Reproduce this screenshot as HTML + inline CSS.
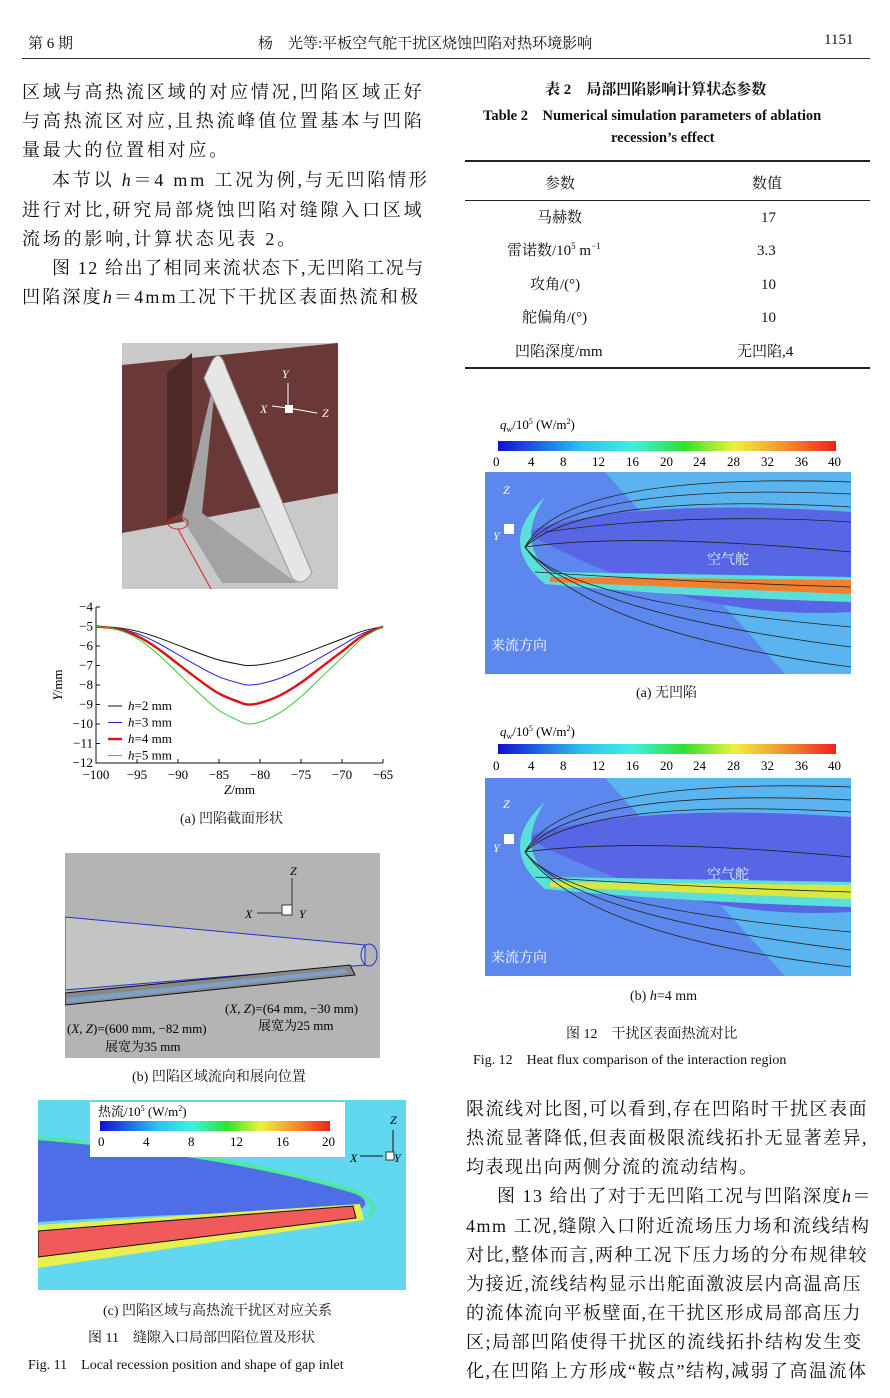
<!DOCTYPE html>
<html><head><meta charset="utf-8"><style>
body{margin:0;width:890px;height:1398px;background:#fff;position:relative;overflow:hidden;font-family:"Liberation Serif","Noto Serif CJK SC","Noto Sans CJK SC",serif;color:#111}
.a{position:absolute;white-space:nowrap}
.t{font-size:18px;letter-spacing:2.8px}
.r{font-size:18px;letter-spacing:1.5px}
.c{font-size:14px}
.v{font-size:15px}
</style></head><body>
<div class="a" style="left:28px;top:32px;font-size:15px">第 6 期</div>
<div class="a" style="left:258px;top:32px;font-size:15px">杨　光等:平板空气舵干扰区烧蚀凹陷对热环境影响</div>
<div class="a" style="left:824px;top:32px;font-size:15px">1151</div>
<div class="a" style="left:22px;top:58px;width:848px;height:1px;background:#333"></div>

<div>
<div class="a t" style="left:22px;top:78px">区域与高热流区域的对应情况,凹陷区域正好</div>
<div class="a t" style="left:22px;top:107px">与高热流区对应,且热流峰值位置基本与凹陷</div>
<div class="a t" style="left:22px;top:136px">量最大的位置相对应。</div>
<div class="a t" style="left:52px;top:166px">本节以 <i>h</i>＝4 mm 工况为例,与无凹陷情形</div>
<div class="a t" style="left:22px;top:196px">进行对比,研究局部烧蚀凹陷对缝隙入口区域</div>
<div class="a t" style="left:22px;top:225px">流场的影响,计算状态见表 2。</div>
<div class="a t" style="left:52px;top:254px;letter-spacing:1.6px">图 12 给出了相同来流状态下,无凹陷工况与</div>
<div class="a t" style="left:22px;top:283px;letter-spacing:2.2px">凹陷深度<i>h</i>＝4mm工况下干扰区表面热流和极</div>
</div>

<div class="a" style="left:545px;top:78px;font-size:15px;font-weight:bold">表 2　局部凹陷影响计算状态参数</div>
<div class="a" style="left:483px;top:104px;font-size:14.5px;font-weight:bold">Table 2　Numerical simulation parameters of ablation</div>
<div class="a" style="left:611px;top:130px;font-size:14.5px;font-weight:bold">recession’s effect</div>
<div>
<div class="a" style="left:465px;top:160px;width:405px;height:1.5px;background:#222"></div>
<div class="a" style="left:465px;top:200px;width:405px;height:1px;background:#222"></div>
<div class="a" style="left:465px;top:367px;width:405px;height:1.5px;background:#222"></div>
<div class="a v" style="left:545px;top:172px">参数</div><div class="a v" style="left:752px;top:172px">数值</div>
<div class="a v" style="left:537px;top:206px">马赫数</div><div class="a v" style="left:761px;top:210px">17</div>
<div class="a v" style="left:507px;top:239px">雷诺数/10<sup style="font-size:9px">5</sup> m<sup style="font-size:9px">−1</sup></div><div class="a v" style="left:757px;top:243px">3.3</div>
<div class="a v" style="left:530px;top:273px">攻角/(°)</div><div class="a v" style="left:761px;top:277px">10</div>
<div class="a v" style="left:522px;top:306px">舵偏角/(°)</div><div class="a v" style="left:761px;top:310px">10</div>
<div class="a v" style="left:515px;top:340px">凹陷深度/mm</div><div class="a v" style="left:737px;top:340px">无凹陷,4</div>
</div>

<svg class="a" style="left:122px;top:343px" width="216" height="246">
<rect width="216" height="246" fill="#c9c9c9"/>
<polygon points="0,22 216,0 216,150 0,190" fill="#6b3838"/>
<polygon points="45,30 70,10 70,160 45,180" fill="#4f2828"/>
<polygon points="95,25 80,170 175,240 100,240 60,175" fill="#a3a3a3"/>
<path d="M82,35 L90,18 Q98,5 104,25 L190,230 Q180,245 170,235 Z" fill="#e6e6e6" stroke="#999"/>
<ellipse cx="56" cy="180" rx="10" ry="6" fill="none" stroke="#d22"/>
<line x1="56" y1="186" x2="122" y2="306" stroke="#d22"/>
<text x="160" y="35" font-size="12" font-style="italic" fill="#fff">Y</text>
<text x="138" y="70" font-size="12" font-style="italic" fill="#fff">X</text>
<text x="200" y="74" font-size="12" font-style="italic" fill="#fff">Z</text>
<line x1="166" y1="40" x2="166" y2="65" stroke="#fff"/><line x1="166" y1="65" x2="195" y2="70" stroke="#fff"/><line x1="166" y1="65" x2="150" y2="63" stroke="#fff"/>
<rect x="163" y="62" width="8" height="8" fill="#fff"/>
</svg>

<svg class="a" id="chart" style="left:0;top:590px" width="440" height="230"></svg>
<div class="a c" style="left:180px;top:808px">(a) 凹陷截面形状</div>

<svg class="a" style="left:65px;top:853px" width="315" height="205">
<rect width="315" height="205" fill="#b4b4b4"/>
<polygon points="0,64 300,92 300,112 0,137" fill="#c4c4c4" stroke="#2233cc"/>
<ellipse cx="304" cy="102" rx="8" ry="11" fill="none" stroke="#2233cc"/>
<polygon points="0,140 285,112 290,122 0,152" fill="#888" stroke="#111"/>
<polygon points="2,145 280,116 283,120 2,150" fill="#7f9fc9"/>
<text x="225" y="22" font-size="12" font-style="italic">Z</text>
<text x="180" y="65" font-size="12" font-style="italic">X</text>
<text x="234" y="65" font-size="12" font-style="italic">Y</text>
<rect x="217" y="52" width="10" height="10" fill="#fff" stroke="#333"/>
<line x1="227" y1="25" x2="227" y2="52" stroke="#333"/><line x1="192" y1="60" x2="217" y2="60" stroke="#333"/>
<text x="160" y="160" font-size="13">(<tspan font-style="italic">X</tspan>, <tspan font-style="italic">Z</tspan>)=(64 mm, −30 mm)</text>
<text x="193" y="177" font-size="13">展宽为25 mm</text>
<text x="2" y="180" font-size="13">(<tspan font-style="italic">X</tspan>, <tspan font-style="italic">Z</tspan>)=(600 mm, −82 mm)</text>
<text x="40" y="198" font-size="13">展宽为35 mm</text>
</svg>
<div class="a c" style="left:132px;top:1066px">(b) 凹陷区域流向和展向位置</div>

<svg class="a" style="left:38px;top:1100px" width="368" height="190">
<defs><linearGradient id="cb" x1="0" x2="1"><stop offset="0" stop-color="#1010d0"/><stop offset=".25" stop-color="#2fc0f0"/><stop offset=".4" stop-color="#40f0e0"/><stop offset=".55" stop-color="#30e030"/><stop offset=".7" stop-color="#f0f040"/><stop offset=".85" stop-color="#f09030"/><stop offset="1" stop-color="#f02020"/></linearGradient></defs>
<rect width="368" height="190" fill="#62d8f0"/>
<path d="M0,38 Q200,55 318,92 Q340,108 310,112 Q150,112 0,122 Z" fill="#4e6ee8"/>
<path d="M0,38 Q200,55 318,92 Q345,105 330,118" fill="none" stroke="#50e8a0" stroke-width="4"/>
<polygon points="0,125 322,104 326,120 0,168" fill="#e8f050"/>
<polygon points="0,131 315,106 318,118 0,157" fill="#f05a5a" stroke="#111"/>
<rect x="52" y="2" width="255" height="55" fill="#fff"/>
<text x="60" y="16" font-size="13">热流/10<tspan font-size="8" dy="-5">5</tspan><tspan dy="5"> (W/m</tspan><tspan font-size="8" dy="-5">2</tspan><tspan dy="5">)</tspan></text>
<rect x="62" y="21" width="230" height="10" fill="url(#cb)"/>
<g font-size="13"><text x="60" y="46">0</text><text x="105" y="46">4</text><text x="150" y="46">8</text><text x="192" y="46">12</text><text x="238" y="46">16</text><text x="284" y="46">20</text></g>
<text x="352" y="24" font-size="12" font-style="italic">Z</text><text x="312" y="62" font-size="12" font-style="italic">X</text><text x="356" y="62" font-size="12" font-style="italic">Y</text>
<line x1="322" y1="56" x2="345" y2="56" stroke="#111"/><line x1="355" y1="30" x2="355" y2="52" stroke="#111"/><rect x="348" y="52" width="8" height="8" fill="#fff" stroke="#333"/>
</svg>
<div class="a c" style="left:103px;top:1300px">(c) 凹陷区域与高热流干扰区对应关系</div>
<div class="a c" style="left:88px;top:1327px">图 11　缝隙入口局部凹陷位置及形状</div>
<div class="a c" style="left:28px;top:1354px">Fig. 11　Local recession position and shape of gap inlet</div>

<svg class="a" style="left:485px;top:412px" width="380" height="262">
<rect width="380" height="262" fill="#fff"/>
<text x="15" y="17" font-size="13"><tspan font-style="italic">q</tspan><tspan font-size="8" dy="3">w</tspan><tspan dy="-3">/10</tspan><tspan font-size="8" dy="-5">5</tspan><tspan dy="5"> (W/m</tspan><tspan font-size="8" dy="-5">2</tspan><tspan dy="5">)</tspan></text>
<rect x="13" y="29" width="338" height="10" fill="url(#cb)"/>
<g font-size="13"><text x="8" y="54">0</text><text x="43" y="54">4</text><text x="75" y="54">8</text><text x="107" y="54">12</text><text x="141" y="54">16</text><text x="175" y="54">20</text><text x="208" y="54">24</text><text x="242" y="54">28</text><text x="276" y="54">32</text><text x="310" y="54">36</text><text x="343" y="54">40</text></g>
<rect x="0" y="60" width="366" height="202" fill="#5c88ee"/>
<path d="M120,60 L366,60 L366,262 L300,262 Z" fill="#58c8f0" opacity=".7"/>
<path d="M40,120 Q150,85 366,100 L366,200 Q200,210 40,120" fill="#5866e6"/>
<path d="M60,85 Q30,130 65,160 L366,165 L366,190 Q200,185 60,172 Q10,130 60,85" fill="#5ae0d8"/>
<polygon points="65,165 366,168 366,182 65,170" fill="#f08030"/>
<g stroke="#222" fill="none" stroke-width=".8"><path d="M40,135 Q80,60 366,70"/><path d="M40,135 Q100,80 366,95"/><path d="M40,135 Q80,190 366,215"/><path d="M40,135 Q100,220 366,255"/><path d="M40,135 Q150,120 366,140"/><path d="M60,120 Q200,100 366,110"/><path d="M50,160 Q200,170 366,175"/><path d="M40,135 Q90,70 366,82"/><path d="M40,135 Q90,200 366,235"/></g>
<text x="222" y="152" font-size="14" fill="#e8f4ff">空气舵</text>
<text x="6" y="238" font-size="14" fill="#fff">来流方向</text>
<text x="18" y="82" font-size="12" font-style="italic" fill="#fff">Z</text><text x="8" y="128" font-size="12" font-style="italic" fill="#fff">Y</text>
<rect x="19" y="112" width="10" height="10" fill="#fff"/>
</svg>
<div class="a c" style="left:636px;top:682px">(a) 无凹陷</div>

<svg class="a" style="left:485px;top:722px" width="380" height="262">
<rect width="380" height="262" fill="#fff"/>
<text x="15" y="14" font-size="13"><tspan font-style="italic">q</tspan><tspan font-size="8" dy="3">w</tspan><tspan dy="-3">/10</tspan><tspan font-size="8" dy="-5">5</tspan><tspan dy="5"> (W/m</tspan><tspan font-size="8" dy="-5">2</tspan><tspan dy="5">)</tspan></text>
<rect x="13" y="22" width="338" height="10" fill="url(#cb)"/>
<g font-size="13"><text x="8" y="48">0</text><text x="43" y="48">4</text><text x="75" y="48">8</text><text x="107" y="48">12</text><text x="141" y="48">16</text><text x="175" y="48">20</text><text x="208" y="48">24</text><text x="242" y="48">28</text><text x="276" y="48">32</text><text x="310" y="48">36</text><text x="343" y="48">40</text></g>
<rect x="0" y="56" width="366" height="198" fill="#5c88ee"/>
<path d="M120,56 L366,56 L366,254 L300,254 Z" fill="#58c8f0" opacity=".7"/>
<path d="M40,115 Q150,80 366,95 L366,190 Q200,200 40,115" fill="#5866e6"/>
<path d="M60,80 Q30,125 65,155 L366,160 L366,185 Q200,180 60,167 Q10,125 60,80" fill="#5ae0d8"/>
<polygon points="65,160 366,163 366,177 65,165" fill="#d8e840"/>
<g stroke="#222" fill="none" stroke-width=".8"><path d="M40,130 Q80,55 366,65"/><path d="M40,130 Q100,75 366,90"/><path d="M40,130 Q80,185 366,210"/><path d="M40,130 Q100,215 366,245"/><path d="M40,130 Q150,115 366,135"/><path d="M50,155 Q200,165 366,170"/><path d="M40,130 Q90,65 366,78"/><path d="M40,130 Q90,195 366,228"/></g>
<text x="222" y="157" font-size="14" fill="#e8f4ff">空气舵</text>
<text x="6" y="240" font-size="14" fill="#fff">来流方向</text>
<text x="18" y="86" font-size="12" font-style="italic" fill="#fff">Z</text><text x="8" y="130" font-size="12" font-style="italic" fill="#fff">Y</text>
<rect x="19" y="112" width="10" height="10" fill="#fff"/>
</svg>
<div class="a c" style="left:630px;top:989px">(b) <i>h</i>=4 mm</div>
<div class="a c" style="left:566px;top:1023px">图 12　干扰区表面热流对比</div>
<div class="a c" style="left:473px;top:1049px">Fig. 12　Heat flux comparison of the interaction region</div>

<div>
<div class="a r" style="left:466px;top:1095px">限流线对比图,可以看到,存在凹陷时干扰区表面</div>
<div class="a r" style="left:466px;top:1124px">热流显著降低,但表面极限流线拓扑无显著差异,</div>
<div class="a r" style="left:466px;top:1153px">均表现出向两侧分流的流动结构。</div>
<div class="a r" style="left:497px;top:1182px">图 13 给出了对于无凹陷工况与凹陷深度<i>h</i>＝</div>
<div class="a r" style="left:466px;top:1212px">4mm 工况,缝隙入口附近流场压力场和流线结构</div>
<div class="a r" style="left:466px;top:1241px">对比,整体而言,两种工况下压力场的分布规律较</div>
<div class="a r" style="left:466px;top:1270px">为接近,流线结构显示出舵面激波层内高温高压</div>
<div class="a r" style="left:466px;top:1299px">的流体流向平板壁面,在干扰区形成局部高压力</div>
<div class="a r" style="left:466px;top:1328px">区;局部凹陷使得干扰区的流线拓扑结构发生变</div>
<div class="a r" style="left:466px;top:1357px">化,在凹陷上方形成“鞍点”结构,减弱了高温流体</div>
</div>

<script>
const zValues=[-100,-97.5,-95,-92.5,-90,-87.5,-85,-82.5,-81.5,-80,-77.5,-75,-72.5,-70,-67.5,-65];
const yH2=[-5,-5.06,-5.24,-5.56,-5.96,-6.36,-6.72,-6.94,-7,-6.96,-6.76,-6.44,-6.04,-5.64,-5.24,-5];
const yH3=[-5,-5.09,-5.36,-5.84,-6.44,-7.04,-7.58,-7.91,-8,-7.94,-7.64,-7.16,-6.56,-5.96,-5.36,-5];
const yH4=[-5,-5.12,-5.48,-6.12,-6.92,-7.72,-8.44,-8.88,-9,-8.92,-8.52,-7.88,-7.08,-6.28,-5.48,-5];
const yH5=[-5,-5.15,-5.6,-6.4,-7.4,-8.4,-9.3,-9.85,-10,-9.9,-9.4,-8.6,-7.6,-6.6,-5.6,-5];
const seriesNames=["h=2 mm","h=3 mm","h=4 mm","h=5 mm"];
const xTicks=[-100,-95,-90,-85,-80,-75,-70,-65];
const yTicks=[-4,-5,-6,-7,-8,-9,-10,-11,-12];
const NS="http://www.w3.org/2000/svg";
const svg=document.getElementById('chart');
const X0=96,X1=383,Y0=17,Y1=173;
const sx=z=>X0+(z+100)/35*(X1-X0);
const sy=y=>Y0+(-4-y)/8*(Y1-Y0);
function mk(t,a){const e=document.createElementNS(NS,t);for(const k in a)e.setAttribute(k,a[k]);svg.appendChild(e);return e;}
function smooth(pts){let d=`M${pts[0][0]},${pts[0][1]}`;for(let i=0;i<pts.length-1;i++){const p0=pts[i-1]||pts[i],p1=pts[i],p2=pts[i+1],p3=pts[i+2]||p2;
 d+=` C${p1[0]+(p2[0]-p0[0])/6},${p1[1]+(p2[1]-p0[1])/6} ${p2[0]-(p3[0]-p1[0])/6},${p2[1]-(p3[1]-p1[1])/6} ${p2[0]},${p2[1]}`;}return d;}
let ax=mk('path',{d:`M${X0},${Y0} L${X0},${Y1} L${X1},${Y1}`,stroke:'#111',fill:'none'});


xTicks.forEach(v=>{mk('line',{x1:sx(v),x2:sx(v),y1:Y1,y2:Y1-4,stroke:'#111'});
 const t=mk('text',{x:sx(v),y:Y1+16,'font-size':13,'text-anchor':'middle'});t.textContent='−'+Math.abs(v);
 
 });
yTicks.forEach(v=>{mk('line',{x1:X0,x2:X0+4,y1:sy(v),y2:sy(v),stroke:'#111'});
 const t=mk('text',{x:X0-3,y:sy(v)+4,'font-size':13,'text-anchor':'end'});t.textContent='−'+Math.abs(v);
 
 });
let xt=mk('text',{x:(X0+X1)/2,y:Y1+31,'font-size':13,'text-anchor':'middle'});xt.innerHTML='<tspan font-style="italic">Z</tspan>/mm';


let yt=mk('text',{x:0,y:0,'font-size':13,'text-anchor':'middle',transform:`translate(62,${(Y0+Y1)/2}) rotate(-90)`});yt.innerHTML='<tspan font-style="italic">Y</tspan>/mm';


const all=[yH2,yH3,yH4,yH5],cols=['#111','#2222dd','#dd1111','#33cc33'],wid=[1,1,2.4,1];
all.forEach((ys,i)=>{
 const p=mk('path',{d:smooth(zValues.map((z,j)=>[sx(z),sy(ys[j])])),fill:'none',stroke:cols[i],'stroke-width':wid[i]});
 
 
 const ly=Y0+99+i*16.5;
 mk('line',{x1:108,x2:122,y1:ly,y2:ly,stroke:cols[i],'stroke-width':wid[i]});
 const t=mk('text',{x:128,y:ly+4,'font-size':13});t.innerHTML='<tspan font-style="italic">h</tspan>'+seriesNames[i].slice(1);
 
 
});
</script>
</body></html>
